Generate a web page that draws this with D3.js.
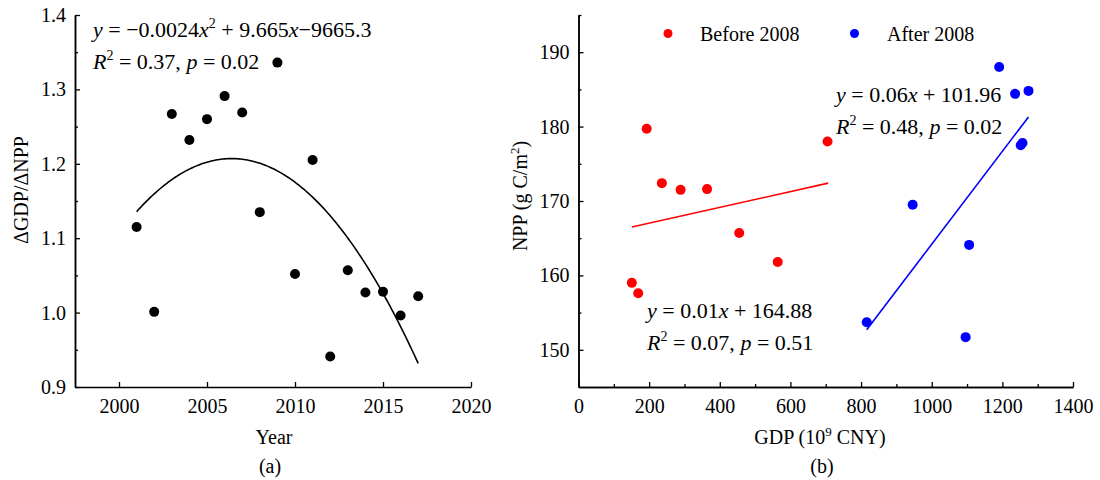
<!DOCTYPE html>
<html>
<head>
<meta charset="utf-8">
<script src="https://cdn.jsdelivr.net/npm/d3@7"></script>
<style>
  body { margin: 0; background: #fff; }
  svg text { font-family: "Liberation Serif", "Times New Roman", serif; fill: #000; }
</style>
</head>
<body>
<div id="chart"></div>
<script>
// (a) ratio per year
const years = [2001, 2002, 2003, 2004, 2005, 2006, 2007, 2008, 2009, 2010, 2011, 2012, 2013, 2014, 2015, 2016, 2017];
const ratio = [1.115, 1.001, 1.267, 1.232, 1.260, 1.291, 1.269, 1.135, 1.336, 1.052, 1.205, 0.941, 1.057, 1.027, 1.028, 0.996, 1.022];
// quadratic fit, vertex form
const fitYears = [2001, 2017];
const fitPeak = [2006.4, 1.207];
const fitA = -0.00245;
const yearTicks = [2000, 2005, 2010, 2015, 2020];
const ratioTicks = [0.9, 1.0, 1.1, 1.2, 1.3, 1.4];

// (b) NPP vs GDP
const gdpBefore = [151, 169, 193, 236, 289, 364, 455, 564, 705];
const nppBefore = [159.0, 157.6, 179.7, 172.4, 171.5, 171.6, 165.7, 161.8, 178.0];
const gdpAfter = [816, 946, 1096, 1106, 1191, 1236, 1252, 1257, 1274];
const nppAfter = [153.7, 169.5, 151.7, 164.1, 188.0, 184.4, 177.5, 177.8, 184.8];
const fitBeforeX = [151, 707];
const fitBeforeY = [166.5, 172.4];
const fitAfterX = [816, 1274];
const fitAfterY = [152.7, 181.3];
const gdpTicks = [0, 200, 400, 600, 800, 1000, 1200, 1400];
const nppTicks = [150, 160, 170, 180, 190];

const W = 1100, H = 480;
const svg = d3.select("#chart").append("svg")
    .attr("width", W)
    .attr("height", H);

const fs = 20;   // tick + axis labels
const fa = 22;   // fit annotations

function styleAxis(g) {
    g.select(".domain").attr("stroke", "#000").attr("stroke-width", 1.5);
    g.selectAll(".tick line").attr("stroke", "#000").attr("stroke-width", 1.3);
    g.selectAll("text").attr("font-size", fs).attr("font-family", "Liberation Serif");
}

// ---------- panel a ----------
const xa = d3.scaleLinear().domain([1997.5, 2020]).range([75, 471]);
const ya = d3.scaleLinear().domain([0.9, 1.4]).range([387, 15]);

svg.append("g")
    .attr("transform", "translate(0,387)")
    .call(d3.axisBottom(xa).tickValues(yearTicks).tickFormat(d3.format("d")).tickSize(-5).tickSizeOuter(0).tickPadding(12))
    .call(styleAxis);
svg.append("g")
    .attr("transform", "translate(75,0)")
    .call(d3.axisLeft(ya).tickValues(d3.range(0.95, 1.4, 0.1)).tickFormat("").tickSize(-3).tickSizeOuter(0))
    .call(styleAxis);
svg.append("g")
    .attr("transform", "translate(75,0)")
    .call(d3.axisLeft(ya).tickValues(ratioTicks).tickFormat(d3.format(".1f")).tickSize(-5).tickSizeOuter(0).tickPadding(9))
    .call(styleAxis);

const curveYears = d3.range(fitYears[0], fitYears[1] + 0.001, 0.1);
svg.append("path")
    .datum(curveYears)
    .attr("fill", "none")
    .attr("stroke", "#000")
    .attr("stroke-width", 1.6)
    .attr("d", d3.line()
        .x(d => xa(d))
        .y(d => ya(fitA * (d - fitPeak[0]) ** 2 + fitPeak[1])));

svg.append("g").selectAll("circle")
    .data(years)
    .enter()
    .append("circle")
        .attr("cx", d => xa(d))
        .attr("cy", (d, i) => ya(ratio[i]))
        .attr("r", 5)
        .attr("fill", "#000");

// annotation a
const ta1 = svg.append("text").attr("x", 93).attr("y", 37).attr("font-size", fa);
ta1.append("tspan").attr("font-style", "italic").text("y");
ta1.append("tspan").text(" = \u22120.0024");
ta1.append("tspan").attr("font-style", "italic").text("x");
ta1.append("tspan").attr("font-size", 14).attr("dy", -9).text("2");
ta1.append("tspan").attr("dy", 9).text(" + 9.665");
ta1.append("tspan").attr("font-style", "italic").text("x");
ta1.append("tspan").text("\u22129665.3");

const ta2 = svg.append("text").attr("x", 93).attr("y", 69).attr("font-size", fa);
ta2.append("tspan").attr("font-style", "italic").text("R");
ta2.append("tspan").attr("font-size", 14).attr("dy", -9).text("2");
ta2.append("tspan").attr("dy", 9).text(" = 0.37, ");
ta2.append("tspan").attr("font-style", "italic").text("p");
ta2.append("tspan").text(" = 0.02");

svg.append("text")
    .attr("x", 274).attr("y", 444)
    .attr("text-anchor", "middle").attr("font-size", fs)
    .text("Year");
svg.append("text")
    .attr("x", 270).attr("y", 473)
    .attr("text-anchor", "middle").attr("font-size", fs)
    .text("(a)");
svg.append("text")
    .attr("transform", "translate(28,190) rotate(-90)")
    .attr("text-anchor", "middle").attr("font-size", fs)
    .text("\u0394GDP/\u0394NPP");

// ---------- panel b ----------
const xb = d3.scaleLinear().domain([0, 1400]).range([578.5, 1073]);
const yb = d3.scaleLinear().domain([145, 195]).range([387, 15]);

svg.append("g")
    .attr("transform", "translate(0,387)")
    .call(d3.axisBottom(xb).tickValues(d3.range(100, 1400, 200)).tickFormat("").tickSize(-3).tickSizeOuter(0))
    .call(styleAxis);
svg.append("g")
    .attr("transform", "translate(0,387)")
    .call(d3.axisBottom(xb).tickValues(gdpTicks).tickFormat(d3.format("d")).tickSize(-5).tickSizeOuter(0).tickPadding(12))
    .call(styleAxis);
svg.append("g")
    .attr("transform", "translate(578.5,0)")
    .call(d3.axisLeft(yb).tickValues(d3.range(155, 196, 10)).tickFormat("").tickSize(-3).tickSizeOuter(0))
    .call(styleAxis);
svg.append("g")
    .attr("transform", "translate(578.5,0)")
    .call(d3.axisLeft(yb).tickValues(nppTicks).tickFormat(d3.format("d")).tickSize(-5).tickSizeOuter(0).tickPadding(9))
    .call(styleAxis);

const fitLine = d3.line().x(d => xb(d[0])).y(d => yb(d[1]));
svg.append("path")
    .datum(d3.zip(fitBeforeX, fitBeforeY))
    .attr("fill", "none").attr("stroke", "#ff0000").attr("stroke-width", 1.6)
    .attr("d", fitLine);
svg.append("path")
    .datum(d3.zip(fitAfterX, fitAfterY))
    .attr("fill", "none").attr("stroke", "#0000ff").attr("stroke-width", 1.6)
    .attr("d", fitLine);

svg.append("g").selectAll("circle")
    .data(d3.zip(gdpBefore, nppBefore))
    .enter()
    .append("circle")
        .attr("cx", d => xb(d[0]))
        .attr("cy", d => yb(d[1]))
        .attr("r", 5)
        .attr("fill", "#ff0000");
svg.append("g").selectAll("circle")
    .data(d3.zip(gdpAfter, nppAfter))
    .enter()
    .append("circle")
        .attr("cx", d => xb(d[0]))
        .attr("cy", d => yb(d[1]))
        .attr("r", 5)
        .attr("fill", "#0000ff");

// legend
svg.append("circle").attr("cx", 668).attr("cy", 33.5).attr("r", 4.5).attr("fill", "#ff0000");
svg.append("text").attr("x", 700).attr("y", 41).attr("font-size", fs).text("Before 2008");
svg.append("circle").attr("cx", 854.5).attr("cy", 33.5).attr("r", 4.5).attr("fill", "#0000ff");
svg.append("text").attr("x", 887).attr("y", 41).attr("font-size", fs).text("After 2008");

function fitLabel(x, y, eq, r2, p) {
    const t1 = svg.append("text").attr("x", x).attr("y", y).attr("font-size", fa);
    t1.append("tspan").attr("font-style", "italic").text("y");
    t1.append("tspan").text(" = " + eq[0]);
    t1.append("tspan").attr("font-style", "italic").text("x");
    t1.append("tspan").text(" + " + eq[1]);
    const t2 = svg.append("text").attr("x", x).attr("y", y + 32).attr("font-size", fa);
    t2.append("tspan").attr("font-style", "italic").text("R");
    t2.append("tspan").attr("font-size", 14).attr("dy", -9).text("2");
    t2.append("tspan").attr("dy", 9).text(" = " + r2 + ", ");
    t2.append("tspan").attr("font-style", "italic").text("p");
    t2.append("tspan").text(" = " + p);
}
fitLabel(836, 102, ["0.06", "101.96"], "0.48", "0.02");
fitLabel(647, 318, ["0.01", "164.88"], "0.07", "0.51");

const xl = svg.append("text")
    .attr("x", 820).attr("y", 444)
    .attr("text-anchor", "middle").attr("font-size", fs)
    .text("GDP (10");
xl.append("tspan").attr("font-size", 13).attr("dy", -8).text("9");
xl.append("tspan").attr("dy", 8).text(" CNY)");
svg.append("text")
    .attr("x", 822).attr("y", 473)
    .attr("text-anchor", "middle").attr("font-size", fs)
    .text("(b)");

const yl = svg.append("text")
    .attr("transform", "translate(527,196) rotate(-90)")
    .attr("text-anchor", "middle").attr("font-size", fs)
    .text("NPP (g C/m");
yl.append("tspan").attr("font-size", 13).attr("dy", -8).text("2");
yl.append("tspan").attr("dy", 8).text(")");
</script>
</body>
</html>
